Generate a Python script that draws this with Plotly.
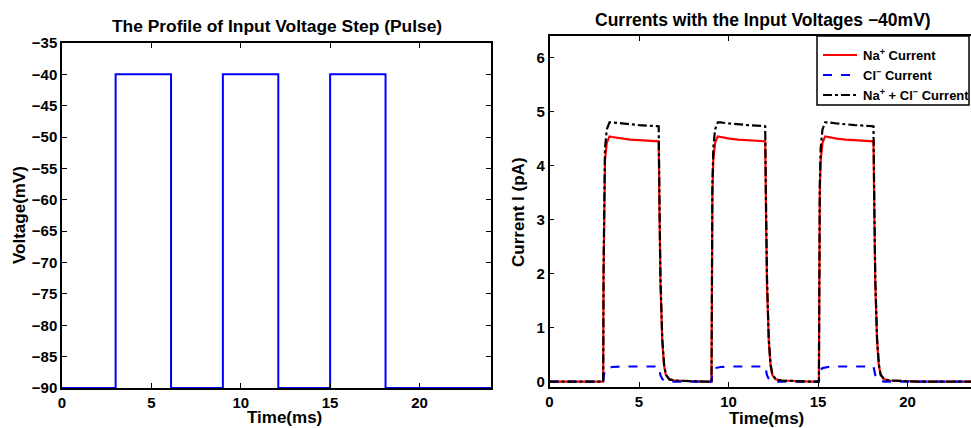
import plotly.graph_objects as go

# ---------------- data ----------------
# Left panel: voltage step profile (step points, held until next time)
v_time = [0, 3.0, 6.1, 9.0, 12.1, 15.0, 18.1, 24]
v_volt = [-90, -40, -90, -40, -90, -40, -90, -90]

# Right panel: currents. Pulse onsets / offsets (ms)
pulse_on = [3.0, 9.05, 15.05]
pulse_off = [6.1, 12.05, 18.1]

# shape during pulse, time since onset (ms)
on_dt = [0.0, 0.02, 0.05, 0.1, 0.2, 0.35, 0.5, 1.0, 1.5, 2.0, 2.5, 3.0]
na_on = [0.0, 2.0, 3.5, 4.1, 4.42, 4.54, 4.53, 4.50, 4.48, 4.47, 4.46, 4.45]
cl_on = [0.0, 0.08, 0.15, 0.22, 0.25, 0.26, 0.27, 0.28, 0.28, 0.28, 0.28, 0.28]
sum_on = [0.0, 2.08, 3.65, 4.32, 4.67, 4.80, 4.80, 4.78, 4.76, 4.75, 4.74, 4.73]

# shape after pulse end, time since offset (ms)
off_dt = [0.0, 0.05, 0.1, 0.2, 0.3, 0.4, 0.6, 0.9, 1.5, 2.5]
na_off = [4.45, 3.0, 1.8, 0.75, 0.3, 0.12, 0.04, 0.02, 0.01, 0.0]
cl_off = [0.28, 0.2, 0.12, 0.05, 0.02, 0.01, 0.0, 0.0, 0.0, 0.0]
sum_off = [4.73, 3.2, 1.92, 0.8, 0.32, 0.13, 0.04, 0.02, 0.01, 0.0]

series_names = ["<b>Na<sup>+</sup> Current</b>", "<b>Cl<sup>−</sup> Current</b>",
                "<b>Na<sup>+</sup> + Cl<sup>−</sup> Current</b>"]

t_start, t_end = 0.0, 24.0


def build(on_vals, off_vals):
    ts, ys = [t_start], [0.0]
    for k, (ton, toff) in enumerate(zip(pulse_on, pulse_off)):
        for d, v in zip(on_dt, on_vals):
            if ton + d < toff:
                ts.append(ton + d)
                ys.append(v)
        for d, v in zip(off_dt, off_vals):
            nxt = pulse_on[k + 1] if k + 1 < len(pulse_on) else t_end
            if toff + d < nxt:
                ts.append(toff + d)
                ys.append(v)
    ts.append(t_end)
    ys.append(0.0)
    return ts, ys


na_t, na_y = build(na_on, na_off)
cl_t, cl_y = build(cl_on, cl_off)
su_t, su_y = build(sum_on, sum_off)

# ---------------- figure ----------------
FONT = "Liberation Sans, Arial, Helvetica, sans-serif"
W, H = 971, 428
styles = [dict(color="#ff0000", width=2.2, dash="solid"),
          dict(color="#0000ff", width=2.2, dash="dash"),
          dict(color="#000000", width=2.2, dash="dashdot")]

fig = go.Figure()
fig.add_trace(go.Scatter(x=v_time, y=v_volt, mode="lines", line=dict(color="#0000ff", width=2, shape="hv"),
                         showlegend=False, xaxis="x", yaxis="y"))
for (tx, ty), nm, st in zip([(na_t, na_y), (cl_t, cl_y), (su_t, su_y)], series_names, styles):
    fig.add_trace(go.Scatter(x=tx, y=ty, mode="lines", name=nm, line=st, showlegend=False,
                             xaxis="x2", yaxis="y2"))

tickfont = dict(family=FONT, size=15, color="black", weight="bold")
common = dict(showgrid=False, zeroline=False, showline=True, linecolor="black", linewidth=1.5,
              ticks="inside", ticklen=5, tickwidth=1, tickcolor="black", tickfont=tickfont,
              automargin=False)

fig.update_layout(
    width=W, height=H,
    margin=dict(l=0, r=0, t=0, b=0, autoexpand=False),
    paper_bgcolor="white", plot_bgcolor="white",
    xaxis=dict(domain=[62 / W, 491 / W], range=[0, 24], tickvals=[0, 5, 10, 15, 20],
               mirror="ticks", anchor="y", **common),
    yaxis=dict(domain=[1 - 388 / H, 1 - 43 / H], range=[-90, -35], dtick=5,
               mirror="ticks", anchor="x", **common),
    xaxis2=dict(domain=[549.5 / W, 1.0], range=[0, (W - 549.5) / 17.9], tickvals=[0, 5, 10, 15, 20],
                mirror="ticks", anchor="y2", **common),
    yaxis2=dict(domain=[1 - 387 / H, 1 - 36 / H], range=[-0.1, 6.4], dtick=1,
                mirror=False, anchor="x2", **common),
    showlegend=False,
)

# manual legend box (pixel positions converted to paper coords)
def px(x):
    return x / W


def py(y):
    return 1 - y / H


fig.add_shape(type="rect", xref="paper", yref="paper", x0=px(817), x1=px(969), y0=py(105), y1=py(36),
              line=dict(color="black", width=1.5), fillcolor="white", layer="above")
for i, (nm, st) in enumerate(zip(series_names, styles)):
    yy = py(55 + 20 * i)
    fig.add_shape(type="line", xref="paper", yref="paper", x0=px(823), x1=px(857), y0=yy, y1=yy,
                  line=dict(color=st["color"], width=2, dash=st["dash"]), layer="above")
    fig.add_annotation(text=nm, x=px(861), y=yy, xref="paper", yref="paper", xanchor="left",
                       yanchor="middle", showarrow=False, font=dict(family=FONT, size=13, color="black"))

ann = [
    dict(text="<b>The Profile of Input Voltage Step (Pulse)</b>", x=277, y=26, size=17.4, angle=0),
    dict(text="<b>Currents with the Input Voltages −40mV)</b>", x=762.5, y=20, size=17.5, angle=0),
    dict(text="<b>Time(ms)</b>", x=284, y=417, size=17, angle=0),
    dict(text="<b>Time(ms)</b>", x=766, y=418, size=17, angle=0),
    dict(text="<b>Voltage(mV)</b>", x=19, y=215, size=17, angle=-90),
    dict(text="<b>Current I (pA)</b>", x=519, y=212, size=17, angle=-90),
]
for a in ann:
    fig.add_annotation(text=a["text"], x=px(a["x"]), y=py(a["y"]), xref="paper", yref="paper",
                       xanchor="center", yanchor="middle", showarrow=False, textangle=a["angle"],
                       font=dict(family=FONT, size=a["size"], color="black"))

fig.write_html("out.html", config={"displayModeBar": False},
               post_script="document.body.style.margin='0';document.body.style.overflow='hidden';")
